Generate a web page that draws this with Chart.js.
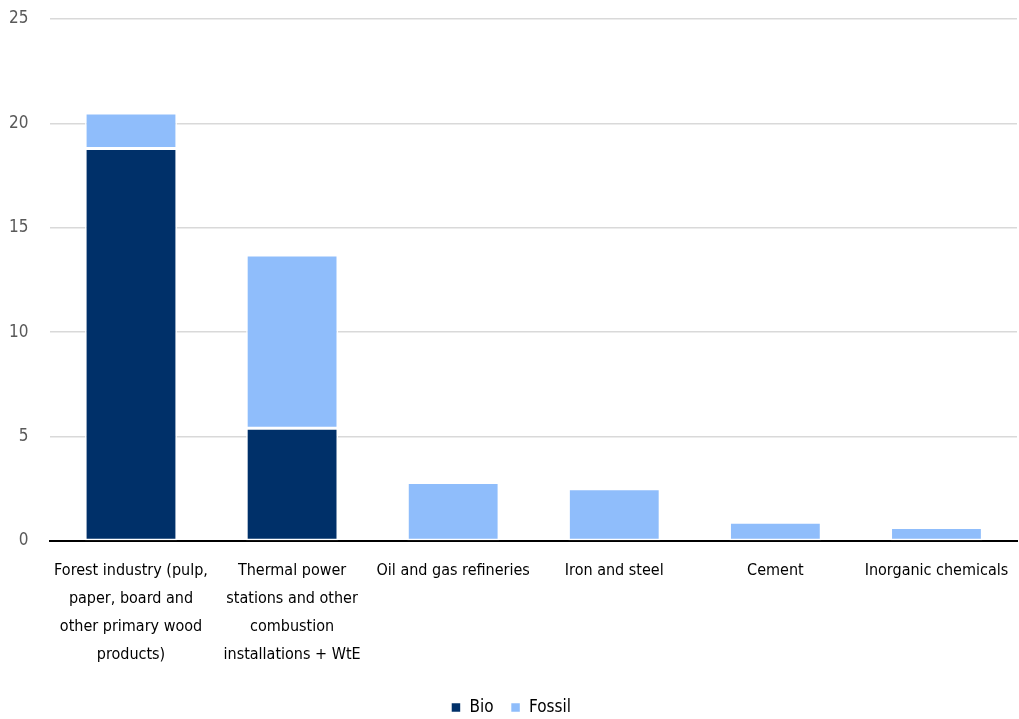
<!DOCTYPE html>
<html>
<head>
<meta charset="utf-8">
<script src="https://cdn.jsdelivr.net/npm/chart.js@4.4.1/dist/chart.umd.min.js"></script>
<style>
  html, body { margin: 0; padding: 0; background: #fff; }
  #wrap { width: 1019px; height: 719px; }
</style>
</head>
<body>
<div id="wrap"><canvas id="co2Chart"></canvas></div>
<script>
// sector emissions, bio vs fossil
const categories = [
    ['Forest industry (pulp,', 'paper, board and', 'other primary wood', 'products)'],
    ['Thermal power', 'stations and other', 'combustion', 'installations + WtE'],
    'Oil and gas refineries',
    'Iron and steel',
    'Cement',
    'Inorganic chemicals'
];
const bioValues = [18.8, 5.4, 0, 0, 0, 0];
const fossilValues = [1.7, 8.3, 2.8, 2.5, 0.9, 0.65];
const yTicks = [0, 5, 10, 15, 20, 25];

const FONT = '"Liberation Sans Narrow", "DejaVu Sans Condensed", "Roboto Condensed", sans-serif';

const ctx = document.getElementById('co2Chart');
new Chart(ctx, {
    type: 'bar',
    data: {
        labels: categories,
        datasets: [
            {
                label: 'Bio',
                data: bioValues,
                backgroundColor: '#003069',
                borderColor: '#ffffff',
                borderWidth: 1.5,
                borderSkipped: false,
                categoryPercentage: 1,
                barPercentage: 0.57
            },
            {
                label: 'Fossil',
                data: fossilValues,
                backgroundColor: '#8fbdfb',
                borderColor: '#ffffff',
                borderWidth: 1.5,
                borderSkipped: false,
                categoryPercentage: 1,
                barPercentage: 0.57
            }
        ]
    },
    options: {
        responsive: true,
        maintainAspectRatio: false,
        animation: false,
        layout: { padding: { left: 5, right: 2, top: 19, bottom: -7 } },
        scales: {
            x: {
                stacked: true,
                // invisible tick marks push the labels down without widening the side padding
                grid: { display: true, drawOnChartArea: false, drawTicks: true, tickLength: 12, color: 'rgba(0,0,0,0)' },
                border: { display: true, color: '#000000', width: 2 },
                afterFit: scale => { scale.height += 9; },
                ticks: {
                    color: '#000000',
                    padding: 4,
                    maxRotation: 0,
                    autoSkip: false,
                    font: { family: FONT, size: 16, lineHeight: 1.75 }
                }
            },
            y: {
                stacked: true,
                min: 0,
                max: 25,
                afterBuildTicks: axis => { axis.ticks = yTicks.map(v => ({ value: v })); },
                grid: { color: '#d9d9d9', lineWidth: 1.5, drawTicks: true, tickLength: 18, tickColor: 'rgba(0,0,0,0)' },
                border: { display: false },
                ticks: {
                    color: '#595959',
                    padding: 4,
                    font: { family: FONT, size: 17 }
                }
            }
        },
        plugins: {
            legend: {
                position: 'bottom',
                labels: {
                    color: '#000000',
                    boxWidth: 10,
                    boxHeight: 10,
                    padding: 17,
                    font: { family: FONT, size: 17 }
                }
            },
            tooltip: { enabled: false }
        }
    }
});
</script>
</body>
</html>
